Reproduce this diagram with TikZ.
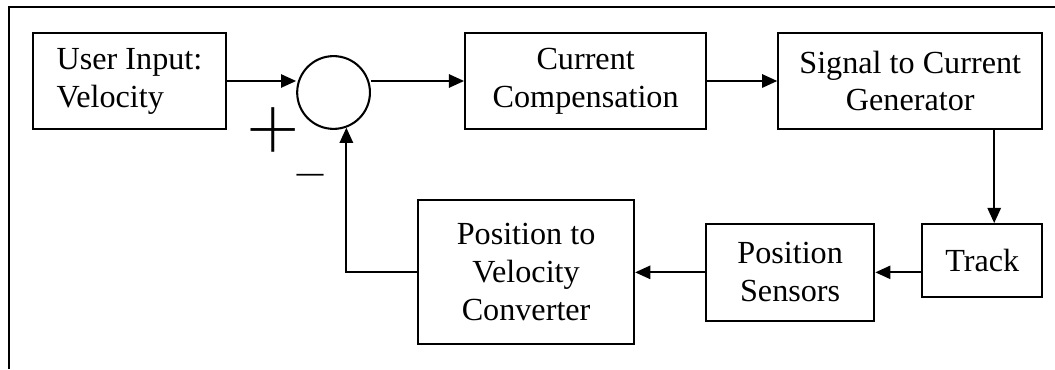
\documentclass[tikz,border=0pt]{standalone}
\usepackage{fontspec}
\setmainfont{Liberation Serif}
\newfontfamily\signfont{Fira Sans Thin}
\usetikzlibrary{arrows.meta,positioning,calc}
\tikzset{
  >={Triangle[length=5.5pt,width=4.8pt]},
  blk/.style={draw,line width=0.75pt,minimum width=#1,minimum height=12.3mm,align=center,
    font=\fontsize{11.7}{13.8}\selectfont,inner sep=2pt},
  blk/.default=25mm,
  sumpt/.style={circle,draw,line width=0.75pt,minimum size=9.3mm,inner sep=0pt},
  flow/.style={->,line width=0.75pt},
  pmsign/.style={anchor=base,inner sep=0pt,font=\signfont\fontsize{#1}{#1}\selectfont},
}

\begin{document}
\begin{tikzpicture}
  \useasboundingbox (0,0) rectangle (13.48,4.716);
  % frame
  \draw[line width=0.75pt] (0.115,0) -- (0.115,4.626) -- (13.48,4.626);
  % forward path
  \node[blk=24.7mm,align=left] (inp) at (1.655,3.681) {User Input:\\Velocity};
  \node[sumpt] (sum) at (4.262,3.534) {};
  \node[blk=30.8mm] (comp) at (7.483,3.681) {Current\\Compensation};
  \node[blk=33.7mm] (sig) at (11.63,3.681) {Signal to Current\\Generator};
  % feedback path
  \node[blk=15.3mm,minimum height=9.3mm] (trk) at (12.55,1.387) {Track};
  \node[blk=21.5mm,minimum height=12.4mm] (sens) at (10.096,1.236) {Position\\Sensors};
  \node[blk=27.6mm,minimum height=18.4mm] (conv) at (6.722,1.236) {Position to\\Velocity\\Converter};
  \node[pmsign=49] (plus) at (3.495,2.492) {+};
  \node[pmsign=30,text height=6pt] (minus) at (3.962,2.125) {−};
  \draw[flow] (inp.east) -- (inp.east -| sum.west);
  \draw[flow] (comp.west -| sum.east) -- (comp.west);
  \draw[flow] (comp) -- (sig);
  \draw[flow] ([xshift=1.53mm]trk.north |- sig.south) -- ([xshift=1.53mm]trk.north);
  \draw[flow] (sens.east -| trk.west) -- (sens.east);
  \draw[flow] (sens.west) -- (sens.west -| conv.east);
  \draw[flow] (conv.west) -| (sum.-70);
\end{tikzpicture}
\end{document}
